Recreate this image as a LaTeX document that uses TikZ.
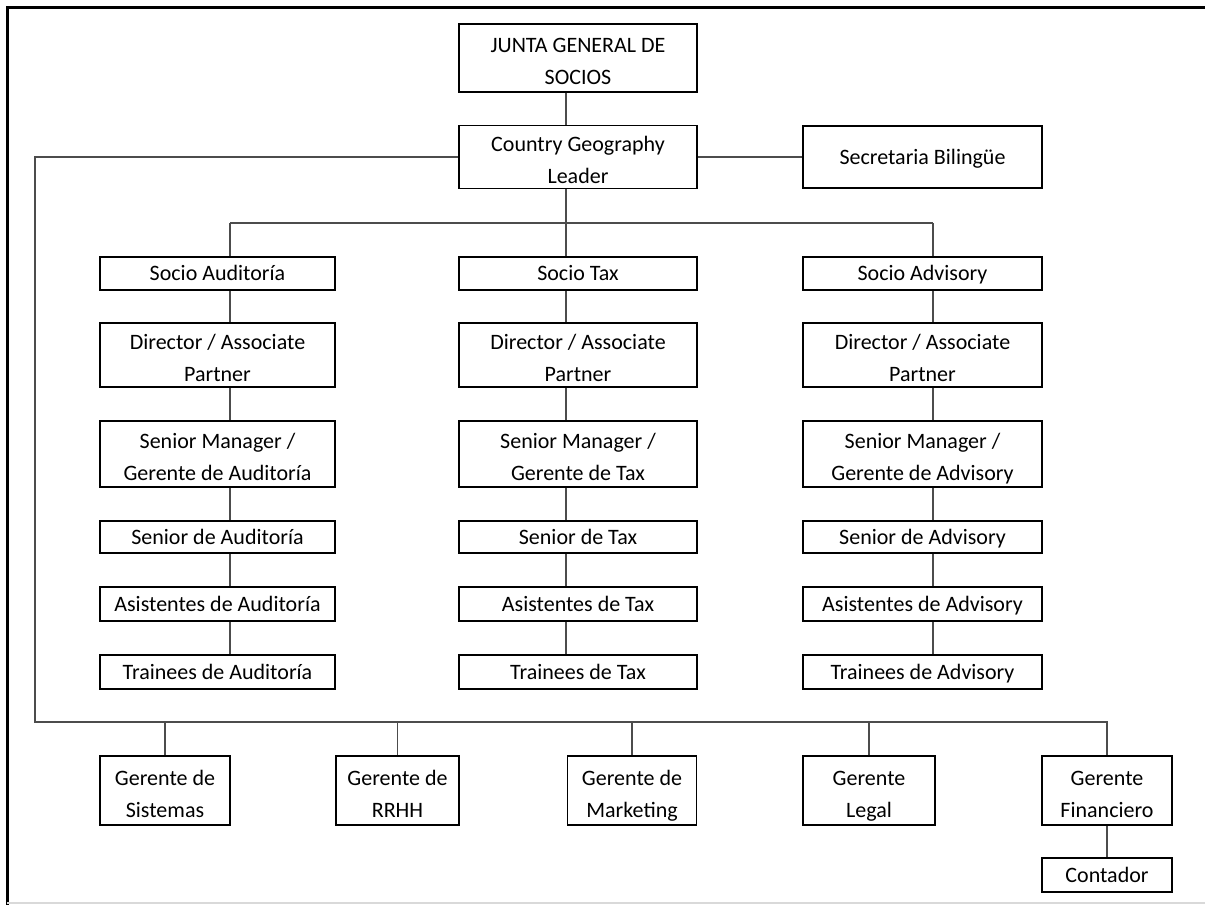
\documentclass[tikz,border=0pt]{standalone}
\usepackage{fontspec}
\setmainfont{Carlito}
\newcommand{\alto}{\rule{0pt}{26pt}}

\tikzset{
	puesto/.style={draw, line width=1.6pt, align=center, inner sep=0pt,
		font=\fontsize{22}{32}\selectfont},
	uno/.style={puesto, text height=15pt, text depth=1pt},
	dos/.style={puesto, execute at end node=\rule[-5pt]{0pt}{5pt}},
	enlace/.style={line width=1.6pt, draw=black!70},
	marco/.style={line width=3pt, draw=black},
}

\begin{document}
\begin{tikzpicture}[x=1pt, y=-1pt]
	\useasboundingbox (0,0) rectangle (1205,905);
	% Marco de la hoja:
	\draw[marco] (7,905) -- (7,7) -- (1205,7);
	\draw[line width=1.5pt, draw=black!15] (7,903) -- (1205,903);
	% Direccion:
	\node[dos, minimum width=238pt, minimum height=68pt] (junta) at (578,58) {\alto JUNTA GENERAL DE\\SOCIOS};
	\node[dos, minimum width=238pt, minimum height=62pt] (cgl) at (578,157) {\alto Country Geography\\Leader};
	\node[uno, minimum width=239pt, minimum height=62pt] (secre) at (922.5,157) {Secretaria Bilingüe};
	% Columnas de servicio:
	\foreach \c/\cx/\w/\area in {aud/217.5/235/Auditoría, tax/578/238/Tax, adv/922.5/239/Advisory}{
		\node[uno, minimum width=\w pt, minimum height=33pt] (soc\c) at (\cx,273.5) {Socio \area};
		\node[dos, minimum width=\w pt, minimum height=64pt] (dir\c) at (\cx,355) {\alto Director / Associate\\Partner};
		\node[dos, minimum width=\w pt, minimum height=66pt] (sm\c) at (\cx,454) {\alto Senior Manager /\\Gerente de \area};
		\node[uno, minimum width=\w pt, minimum height=32pt] (sen\c) at (\cx,537) {Senior de \area};
		\node[uno, minimum width=\w pt, minimum height=34pt] (asi\c) at (\cx,604) {Asistentes de \area};
		\node[uno, minimum width=\w pt, minimum height=34pt] (tra\c) at (\cx,672) {Trainees de \area};
	}
	% Gerencias de apoyo:
	\node[dos, minimum width=130pt, minimum height=69pt] (sis) at (165,790.5) {\alto Gerente de\\Sistemas};
	\node[dos, minimum width=123pt, minimum height=69pt] (rrhh) at (397.5,790.5) {\alto Gerente de\\RRHH};
	\node[dos, minimum width=129pt, minimum height=69pt] (mkt) at (632,790.5) {\alto Gerente de\\Marketing};
	\node[dos, minimum width=132pt, minimum height=69pt] (leg) at (869,790.5) {\alto Gerente\\Legal};
	\node[dos, minimum width=130pt, minimum height=69pt] (fin) at (1107,790.5) {\alto Gerente\\Financiero};
	\node[uno, minimum width=130pt, minimum height=34pt] (cont) at (1107,875) {Contador};
	% Lineas:
	\coordinate (xaud) at (230,223);
	\coordinate (xtax) at (566,223);
	\coordinate (xadv) at (933,223);
	\coordinate (esqSup) at (35,160);
	\coordinate (esqInf) at (35,722);
	\draw[enlace] (junta.south -| xtax) -- (cgl.north -| xtax);
	\draw[enlace] (cgl.east) -- (secre.west);
	\draw[enlace] (cgl.south -| xtax) -- (soctax.north -| xtax);
	\draw[enlace] (xaud) -- (xadv);
	\draw[enlace] (xaud) -- (socaud.north -| xaud);
	\draw[enlace] (xadv) -- (socadv.north -| xadv);
	\foreach \c in {aud, tax, adv}{
		\foreach \a/\b in {soc/dir, dir/sm, sm/sen, sen/asi, asi/tra}
			\draw[enlace] (\a\c.south -| x\c) -- (\b\c.north -| x\c);
	}
	\draw[enlace] (cgl.west) -- (cgl.west -| esqSup) -- (esqInf) -- (esqInf -| fin.north) -- (fin.north);
	\foreach \g in {sis, rrhh, mkt, leg}
		\draw[enlace] (\g.north) -- (\g.north |- esqInf);
	\draw[enlace] (fin.south) -- (cont.north);
\end{tikzpicture}
\end{document}
